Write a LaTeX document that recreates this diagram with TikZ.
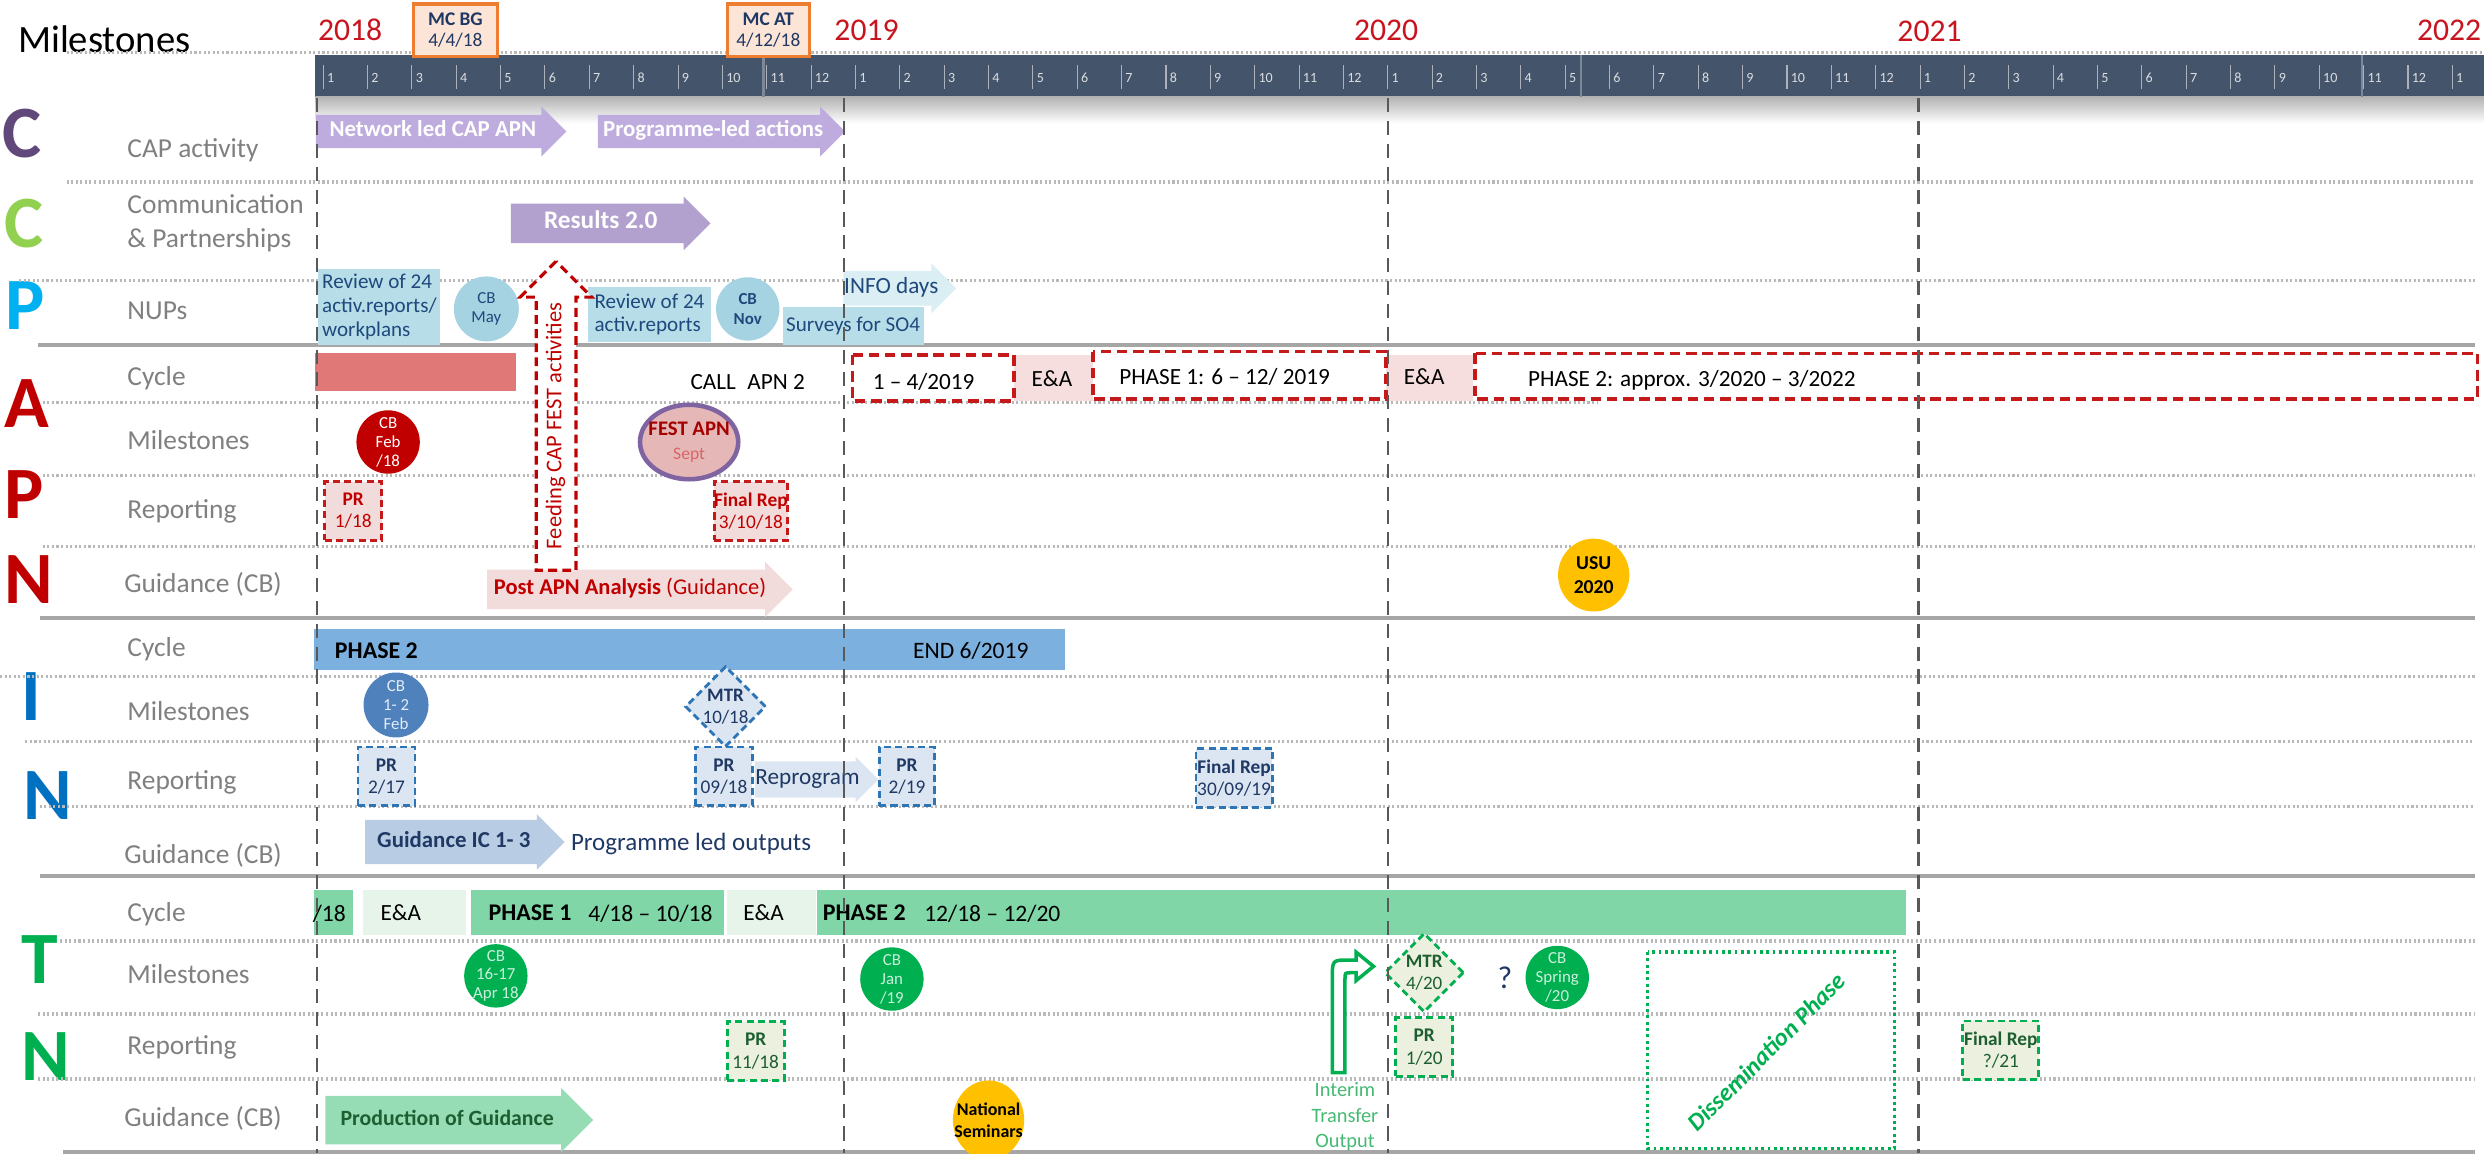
\documentclass[tikz,border=0pt]{standalone}
\usepackage{fontspec}
\setmainfont{Carlito}
\usetikzlibrary{shapes.arrows,shapes.geometric}

\definecolor{lblgray}{RGB}{128,128,128}
\definecolor{capC}{RGB}{96,73,122}
\definecolor{comC}{RGB}{146,208,80}
\definecolor{nupP}{RGB}{0,176,240}
\definecolor{apnR}{RGB}{192,0,0}
\definecolor{intB}{RGB}{0,112,192}
\definecolor{tnG}{RGB}{0,176,80}
\definecolor{barDk}{RGB}{68,84,106}
\definecolor{yearR}{RGB}{200,20,30}
\definecolor{mcOr}{RGB}{237,125,49}
\definecolor{mcFill}{RGB}{252,228,214}
\definecolor{navy}{RGB}{31,56,100}
\definecolor{lavA}{RGB}{191,172,222}
\definecolor{lavB}{RGB}{178,160,206}
\definecolor{nupBox}{RGB}{183,222,232}
\definecolor{nupCirc}{RGB}{165,211,225}
\definecolor{nupArr}{RGB}{218,238,243}
\definecolor{nupTxt}{RGB}{31,73,125}
\definecolor{apnBar}{RGB}{224,120,120}
\definecolor{apnPale}{RGB}{242,220,219}
\definecolor{eaPink}{RGB}{247,222,222}
\definecolor{festFill}{RGB}{229,184,183}
\definecolor{festLine}{RGB}{128,100,162}
\definecolor{usuY}{RGB}{255,192,0}
\definecolor{intBar}{RGB}{124,176,222}
\definecolor{intCirc}{RGB}{79,129,189}
\definecolor{intPale}{RGB}{220,230,242}
\definecolor{intLine}{RGB}{46,117,182}
\definecolor{intArr}{RGB}{184,204,228}
\definecolor{tnBar}{RGB}{128,214,166}
\definecolor{eaGreen}{RGB}{230,244,234}
\definecolor{tnPale}{RGB}{235,241,222}
\definecolor{tnDark}{RGB}{30,95,50}
\definecolor{tnArr}{RGB}{150,220,180}
\definecolor{tnText}{RGB}{70,185,115}

\newlength{\un}
\setlength{\un}{0.01584cm}
\newcommand{\fsz}[2]{\fontsize{#1}{#2}\selectfont}

\begin{document}
\begin{tikzpicture}[x=0.01584cm,y=-0.01584cm,every node/.style={inner sep=0pt},
  lbl/.style={anchor=west,text=lblgray,font=\fsz{7.8}{9.5},align=left},
  big/.style={font=\fsz{21}{24}\bfseries},
  yr/.style={text=yearR,font=\fsz{9}{10}},
  mon/.style={anchor=west,text=white!80!barDk,font=\fsz{4}{4}},
  sepdot/.style={gray!55,line width=1pt,dash pattern=on .6pt off .7pt},
  sepline/.style={gray!70,line width=1.2pt},
  yrline/.style={gray!70!black,line width=.6pt,dash pattern=on 4pt off 2.5pt},
  mc/.style={draw=mcOr,fill=mcFill,line width=.9pt,text=navy,font=\fsz{5.5}{6.2},align=center},
  barr/.style n args={3}{single arrow,anchor=tail,minimum height=#1\un,inner ysep=#2,
    single arrow head extend=#3,inner xsep=1pt,text height=4.2pt,text depth=1.2pt,align=center},
  circ/.style={circle,minimum size=#1\un,inner sep=-1.5pt,font=\fsz{4.8}{5.4},align=center},
  cyc/.style={font=\fsz{6.6}{7.5}},
  dbox/.style={draw=apnR!90!white,line width=1pt,dash pattern=on 3pt off 1.6pt},
  prbox/.style={rectangle,line width=.8pt,dash pattern=on 2pt off 1.2pt,minimum height=37\un,
    font=\fsz{5.5}{6.3},align=center},
  apnpr/.style={prbox,draw=apnR!90!white,fill=apnPale,text=apnR},
  intpr/.style={prbox,draw=intLine,fill=intPale,text=navy},
  tnpr/.style={prbox,draw=tnG,fill=tnPale,text=tnDark},
  dia/.style={diamond,line width=.8pt,dash pattern=on 2pt off 1.2pt,minimum width=50\un,
    minimum height=50\un,font=\fsz{5.4}{6.2},align=center}]
\useasboundingbox (0,0) rectangle (1568,728);

% header
\node[anchor=west,font=\fsz{11}{12}] (ttl) at (11,25) {Milestones};
\draw[sepdot] (42,33) -- (1568,33);
\fill[barDk] (199,35) rectangle (1568,61);
\shade[top color=gray!60,bottom color=white] (199,61) rectangle (1568,78);
\foreach \k in {0,...,48}{
  \pgfmathtruncatemacro{\m}{mod(\k,12)+1}
  \draw[white!55!barDk,line width=.3pt] ({204+28*\k},41) -- ++(0,15);
  \node[mon] (m\k) at ({206+28*\k},49) {\m};
}
\foreach \x in {482,998,1491} \draw[white!30!barDk,line width=.8pt] (\x,35) -- (\x,61);
\node[yr] (y18) at (221,19) {2018};
\node[yr] (y19) at (547,19) {2019};
\node[yr] (y20) at (875,19) {2020};
\node[yr] (y21) at (1218,20) {2021};
\node[yr] (y22) at (1546,19) {2022};
\node[mc,minimum width=53\un,minimum height=33\un] (mcbg) at (287.5,19) {\textbf{MC BG}\\4/4/18};
\node[mc,minimum width=52\un,minimum height=33\un] (mcat) at (485,19) {\textbf{MC AT}\\4/12/18};

% left column
\node[big,text=capC] (lC1) at (14,84) {C};
\node[big,text=comC] (lC2) at (15,141) {C};
\node[big,text=nupP] (lP1) at (16,193) {P};
\node[big,text=apnR] (lA) at (17,255) {A};
\node[big,text=apnR] (lP2) at (15,312) {P};
\node[big,text=apnR] (lN1) at (18,366) {N};
\node[big,text=intB] (lI) at (20,440) {I};
\node[big,text=intB] (lN2) at (30,502) {N};
\node[big,text=tnG] (lT) at (25,606) {T};
\node[big,text=tnG] (lN3) at (29,667) {N};

\node[lbl] (r1) at (80,95) {CAP activity};
\node[lbl] (r2) at (80,141) {Communication\\\& Partnerships};
\node[lbl] (r3) at (80,196) {NUPs};
\node[lbl] (r4) at (80,239) {Cycle};
\node[lbl] (r5) at (80,278) {Milestones};
\node[lbl] (r6) at (80,323) {Reporting};
\node[lbl] (r7) at (78,369) {Guidance (CB)};
\node[lbl] (r8) at (80,410) {Cycle};
\node[lbl] (r9) at (80,449) {Milestones};
\node[lbl] (r10) at (80,494) {Reporting};
\node[lbl] (r11) at (78,540) {Guidance (CB)};
\node[lbl] (r12) at (80,577) {Cycle};
\node[lbl] (r13) at (80,615) {Milestones};
\node[lbl] (r14) at (80,661) {Reporting};
\node[lbl] (r15) at (78,706) {Guidance (CB)};

\draw[sepdot] (42,115) -- (1562,115);
\draw[sepdot] (12,177) -- (1562,177);
\draw[sepline] (24,218) -- (1562,218);
\draw[sepdot] (27,254) -- (1008,254);
\draw[sepdot] (27,300) -- (1562,300);
\draw[sepdot] (27,345) -- (1562,345);
\draw[sepline] (25,390) -- (1562,390);
\draw[sepdot] (0,427) -- (1562,427);
\draw[sepdot] (16,468) -- (1562,468);
\draw[sepdot] (25,509) -- (1562,509);
\draw[sepline] (25,553) -- (1562,553);
\draw[sepdot] (38,594) -- (1562,594);
\draw[sepdot] (24,640) -- (1562,640);
\draw[sepdot] (24,681) -- (1562,681);
\draw[sepline] (40,727) -- (1562,727);

% CAP and communication
\node[barr={158}{1.8pt}{2.4pt},fill=lavA,text=white,font=\fsz{6.5}{7}\bfseries] (capNet) at (199,83) {Network led CAP APN};
\node[barr={156}{1.8pt}{2.4pt},fill=lavA,text=white,font=\fsz{6.5}{7}\bfseries] (capProg) at (377,83) {Programme-led actions};
\node[barr={126}{2.7pt}{2pt},fill=lavB,text=white,font=\fsz{7.2}{8}\bfseries] (res) at (322,141) {Results 2.0};

% NUPs
\node[fill=nupBox,minimum width=77\un,minimum height=48\un,text=nupTxt,font=\fsz{6}{6.8},align=left] (rev1) at (239.5,194) {Review of 24\\activ.reports/\\workplans};
\node[circ=41,fill=nupCirc,text=nupTxt] (cbMay) at (307,195) {CB\\May};
\node[fill=nupBox,minimum width=78\un,minimum height=35\un,text=nupTxt,font=\fsz{6}{6.8},align=left] (rev2) at (410,198.5) {Review of 24\\activ.reports};
\node[circ=40,fill=nupCirc,text=nupTxt,font=\fsz{4.8}{5.6}\bfseries] (cbNov) at (472,195) {CB\\Nov};
\node[barr={67}{2pt}{2.2pt},fill=nupArr,text=nupTxt,font=\fsz{6.6}{7},inner xsep=0pt] (info) at (532,182) {INFO days};
\node[fill=nupBox,minimum width=89\un,minimum height=24\un,text=nupTxt,font=\fsz{6}{7}] (surv) at (538.5,206) {Surveys for SO4};

% APN
\fill[apnBar] (199,223) rectangle (326,247);
\node[cyc] (call) at (472,241) {CALL\enspace APN 2};
\fill[eaPink] (640,224) rectangle (690,253);
\fill[eaPink] (875,224) rectangle (930,253);
\draw[dbox] (538,224) rectangle (640,253);
\draw[dbox] (690,222) rectangle (875,252);
\draw[dbox] (931,223) rectangle (1564,252);
\node[cyc] (ph0) at (583,241) {1 -- 4/2019};
\node[cyc] (ea1) at (664,239) {E\&A};
\node[cyc] (ph1) at (773,238) {PHASE 1: 6 -- 12/ 2019};
\node[cyc] (ea2) at (899,238) {E\&A};
\node[cyc] (ph2) at (1068,240) {PHASE 2: approx. 3/2020 -- 3/2022};
\node[circ=40,fill=apnR,text=white] (cbFeb) at (245,279) {CB\\Feb\\/18};
\node[ellipse,fill=festFill,draw=festLine,line width=1.3pt,minimum width=62\un,minimum height=47\un,inner xsep=-4pt,text=apnR!85!black,align=center,font=\fsz{5.9}{6.8}] (fest) at (435,279) {\textbf{FEST APN}\\{\fsz{5}{6}\color{apnR!60}Sept}};
\node[apnpr,minimum width=36\un] (prA) at (223,322.5) {\textbf{PR}\\1/18};
\node[apnpr,minimum width=46\un] (finA) at (474,322.5) {\textbf{Final Rep}\\3/10/18};
\node[barr={193}{2.7pt}{2.3pt},fill=apnPale,text=apnR,font=\fsz{6.4}{7}] (post) at (307,372) {\textbf{Post APN Analysis} (Guidance)};
\node[barr={195}{2.5pt}{4.5pt},rotate=90,fill=white,draw=apnR,dash pattern=on 2.5pt off 1.5pt,line width=.9pt,text=apnR,font=\fsz{6.4}{7}] (feed) at (351,361) {Feeding CAP FEST activities};
\node[ellipse,fill=usuY,minimum width=45\un,minimum height=46\un,font=\fsz{5.6}{6.8}\bfseries,align=center] (usu) at (1006,363) {USU\\2020};

% IN
\fill[intBar] (198,397) rectangle (672,423);
\node[anchor=west,font=\fsz{6.8}{7.5}\bfseries] (iph2) at (211,411) {PHASE 2};
\node[anchor=west,font=\fsz{6.7}{7.5}] (iend) at (576,411) {END 6/2019};
\node[circ=41,fill=intCirc,text=white!85!intCirc] (cbI) at (250,445) {CB\\1- 2\\Feb};
\node[dia,draw=intLine,fill=intPale,text=navy] (mtrI) at (458,446) {\textbf{MTR}\\10/18};
\node[intpr,minimum width=36\un] (prI1) at (244,490) {\textbf{PR}\\2/17};
\node[intpr,minimum width=36\un] (prI2) at (457,490) {\textbf{PR}\\09/18};
\node[barr={74}{2.25pt}{1.3pt},fill=intPale,text=navy,font=\fsz{6.6}{7},inner xsep=0pt] (repro) at (476,492) {Reprogram};
\node[intpr,minimum width=35\un] (prI3) at (572.5,490) {\textbf{PR}\\2/19};
\node[intpr,minimum width=48\un] (finI) at (779,491) {\textbf{Final Rep}\\30/09/19};
\node[barr={126}{3.4pt}{1.6pt},fill=intArr,text=navy,font=\fsz{6.5}{7}\bfseries] (gic) at (230,531.5) {Guidance IC 1- 3};
\node[anchor=west,text=navy,font=\fsz{7.1}{8}] (plo) at (360,533) {Programme led outputs};

% TN
\fill[tnBar] (198,562) rectangle (223,590);
\fill[eaGreen] (229,562) rectangle (294,590);
\fill[tnBar] (297,562) rectangle (457,590);
\fill[eaGreen] (459,562) rectangle (515,590);
\fill[tnBar] (516,562) rectangle (1203,590);
\node[anchor=west,font=\fsz{6.7}{7.5}] (t18) at (197,577) {/18};
\node[cyc] (ea3) at (253,576) {E\&A};
\node[anchor=west,font=\fsz{6.8}{7.5}\bfseries] (tph1) at (308,576) {PHASE 1};
\node[anchor=west,font=\fsz{6.7}{7.5}] (tph1d) at (371,577) {4/18 -- 10/18};
\node[cyc] (ea4) at (482,576) {E\&A};
\node[anchor=west,font=\fsz{6.8}{7.5}\bfseries] (tph2) at (519,576) {PHASE 2};
\node[anchor=west,font=\fsz{6.7}{7.5}] (tph2d) at (583,577) {12/18 -- 12/20};
\node[circ=40,fill=tnG,text=white!80!tnG] (cbT1) at (313,616) {CB\\16-17\\Apr 18};
\node[circ=40,fill=tnG,text=white!80!tnG] (cbT2) at (563,618) {CB\\Jan\\/19};
\node[circ=40,fill=tnG,text=white!80!tnG] (cbT3) at (983,617) {CB\\Spring\\/20};
\node[dia,draw=tnG,fill=tnPale,text=tnDark] (mtrT) at (899,614) {\textbf{MTR}\\4/20};
\node[text=navy,font=\fsz{9}{10}] (qm) at (950,617) {?};
\draw[tnG,line width=1pt,fill=white] (841,677) -- (841,618) .. controls (841,606) .. (851,606)
  -- (856,606) -- (856,601) -- (867,610) -- (856,619) -- (856,614) -- (853,614)
  .. controls (849,614) .. (849,618) -- (849,677) -- cycle;
\node[text=tnText,font=\fsz{5.8}{7.2},align=center] (itr) at (849,705) {Interim\\Transfer\\Output};
\draw[tnG,line width=1pt,dash pattern=on .8pt off 1pt] (1040,601) rectangle (1196,725);
\node[rotate=45,text=tnG,font=\fsz{7}{8}\bfseries\itshape] (diss) at (1115,664) {Dissemination Phase};
\node[tnpr,minimum width=36\un] (prT1) at (477,663.5) {\textbf{PR}\\11/18};
\node[tnpr,minimum width=36\un] (prT2) at (899,661) {\textbf{PR}\\1/20};
\node[tnpr,minimum width=48\un] (finT) at (1263,663) {\textbf{Final Rep}\\?/21};
\node[barr={169}{4pt}{2.2pt},fill=tnArr,text=tnDark,font=\fsz{6.2}{7}\bfseries] (prod) at (205,707) {Production of Guidance};
\node[ellipse,fill=usuY,minimum width=45\un,minimum height=50\un,inner xsep=-4pt,font=\fsz{5.1}{6.2}\bfseries,align=center] (nat) at (624,707) {National\\Seminars};

% year lines
\foreach \x in {200,533,876,1211} \draw[yrline] (\x,62) -- (\x,728);
\end{tikzpicture}
\end{document}
